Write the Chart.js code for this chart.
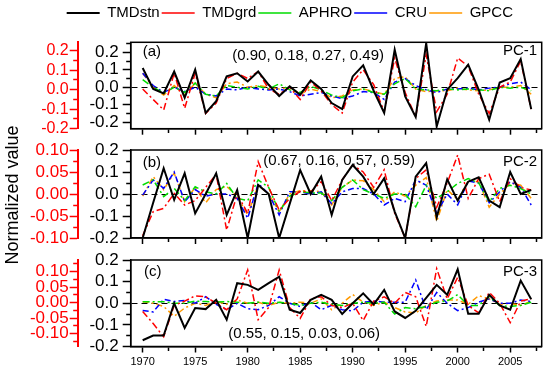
<!DOCTYPE html>
<html>
<head>
<meta charset="utf-8">
<script src="https://cdn.jsdelivr.net/npm/chart.js@4.4.1/dist/chart.umd.min.js"></script>
<style>
  body { margin: 0; background: #fff; }
  #wrap { position: relative; width: 550px; height: 376px; overflow: hidden; }
  #wrap canvas { position: absolute; left: 0; top: 0; }
  #ylab {
    position: absolute; left: -88px; top: 185px; width: 200px; height: 20px;
    line-height: 20px; text-align: center; transform: rotate(-90deg);
    font: 18px 'Liberation Sans', Arial, sans-serif; color: #000; white-space: nowrap;
  }
</style>
</head>
<body>
<div id="wrap">
  <canvas id="pa" width="550" height="376"></canvas>
  <canvas id="pb" width="550" height="376"></canvas>
  <canvas id="pc" width="550" height="376"></canvas>
  <div id="ylab">Normalized value</div>
</div>
<script>
// years and series
const years = [1970, 1971, 1972, 1973, 1974, 1975, 1976, 1977, 1978, 1979,
  1980, 1981, 1982, 1983, 1984, 1985, 1986, 1987, 1988, 1989,
  1990, 1991, 1992, 1993, 1994, 1995, 1996, 1997, 1998, 1999,
  2000, 2001, 2002, 2003, 2004, 2005, 2006, 2007];
const seriesNames = ['TMDstn', 'TMDgrd', 'APHRO', 'CRU', 'GPCC'];

// PC-1
const stnA = [0.11, -0.01, -0.035, 0.09, -0.06, 0.10, -0.147, -0.08, 0.062, 0.08,
  0.033, 0.09, 0.014, -0.05, 0.005, -0.043, 0.039, -0.01, -0.09, -0.125,
  0.062, 0.125, -0.02, -0.147, 0.214, -0.052, -0.17, 0.252, -0.224, -0.014,
  0.052, 0.129, -0.014, -0.186, 0.027, 0.052, 0.161, -0.125];
const grdA = [-0.01, -0.07, -0.13, 0.08, -0.12, 0.08, -0.15, -0.09, 0.05, 0.08,
  0.05, 0.09, -0.01, -0.04, 0.0, -0.07, 0.03, -0.02, -0.10, -0.147,
  0.03, 0.10, 0.015, -0.14, 0.167, -0.03, -0.17, 0.186, -0.14, -0.04,
  0.167, 0.12, -0.04, -0.15, 0.0, 0.03, 0.15, -0.125];
const aphA = [0.043, 0.0, -0.033, 0.0, -0.03, 0.024, -0.04, -0.05, 0.01, 0.0,
  -0.01, 0.005, -0.01, 0.02, -0.015, -0.03, 0.005, -0.015, -0.045, -0.06,
  -0.02, -0.01, -0.03, -0.04, 0.02, 0.05, -0.01, -0.015, -0.02, -0.01,
  -0.015, -0.01, -0.015, -0.02, 0.0, -0.005, 0.0, -0.02];
const cruA = [0.08, 0.01, -0.03, 0.0, -0.025, 0.0, -0.04, -0.05, -0.01, -0.015,
  0.0, -0.01, -0.015, -0.01, -0.025, -0.05, -0.04, -0.03, -0.05, -0.065,
  -0.05, -0.025, -0.03, -0.07, 0.03, 0.05, 0.01, -0.015, -0.03, -0.01,
  -0.01, -0.005, -0.015, -0.005, 0.0, 0.02, 0.03, -0.015];
const gpcA = [0.08, 0.0, -0.045, 0.01, -0.045, 0.024, -0.04, -0.06, 0.02, 0.03,
  0.0, 0.01, 0.0, -0.01, 0.0, -0.04, -0.01, -0.025, -0.06, -0.05,
  -0.015, -0.01, -0.025, -0.04, 0.05, 0.06, -0.01, -0.025, -0.02, -0.02,
  -0.005, -0.015, -0.02, -0.015, 0.0, 0.0, 0.01, -0.04];

// PC-2
const stnB = [-0.2, -0.04, 0.117, -0.027, 0.094, -0.088, 0.0, 0.094, -0.095, 0.018,
  -0.2, 0.041, 0.0, -0.2, -0.045, 0.109, 0.0, 0.079, -0.095, 0.064,
  0.132, 0.079, 0.0, 0.071, -0.08, -0.2, 0.079, 0.14, -0.106, 0.067,
  -0.03, 0.056, 0.076, -0.03, -0.06, 0.10, 0.0, 0.018];
const grdB = [-0.19, -0.08, -0.065, 0.003, -0.05, -0.03, 0.03, 0.089, -0.164, 0.0,
  -0.088, 0.147, 0.03, -0.073, -0.02, 0.012, 0.01, 0.056, -0.03, 0.064,
  0.132, 0.10, 0.03, 0.11, -0.088, -0.2, 0.07, 0.11, -0.06, 0.05,
  0.177, -0.02, 0.07, 0.09, -0.035, 0.07, 0.03, 0.018];
const aphB = [0.041, 0.064, -0.012, 0.026, -0.03, 0.033, 0.01, 0.0, 0.048, -0.02,
  -0.03, 0.064, 0.03, -0.08, -0.01, 0.01, 0.005, 0.005, -0.03, 0.03,
  0.064, 0.02, 0.0, -0.02, 0.0, 0.0, -0.058, 0.04, -0.02, 0.01,
  0.048, 0.07, 0.05, -0.035, 0.025, 0.04, 0.025, 0.0];
const cruB = [-0.005, 0.064, 0.026, 0.10, -0.035, 0.02, -0.01, 0.0, 0.0, -0.02,
  -0.11, 0.048, 0.0, -0.095, 0.01, 0.01, 0.0, 0.01, -0.044, 0.01,
  0.025, 0.025, 0.0, -0.05, -0.02, -0.035, 0.064, 0.04, -0.088, 0.0,
  -0.05, 0.06, 0.05, -0.04, 0.01, 0.056, 0.03, -0.05];
const gpcB = [-0.01, 0.079, 0.02, 0.095, -0.035, 0.03, -0.04, 0.02, 0.035, -0.01,
  -0.095, 0.04, 0.0, -0.08, 0.0, 0.015, 0.015, 0.01, -0.05, 0.03,
  0.064, 0.06, 0.02, -0.035, 0.01, -0.01, 0.04, 0.075, -0.125, 0.02,
  -0.025, 0.06, 0.055, -0.06, 0.0, 0.05, 0.04, -0.02];

// PC-3
const stnC = [-0.171, -0.149, -0.149, 0.0, -0.114, -0.022, -0.027, 0.016, -0.076, 0.093,
  0.085, 0.062, 0.093, 0.123, -0.03, -0.045, 0.016, 0.039, 0.016, -0.05,
  0.0, 0.046, -0.005, 0.062, -0.038, -0.068, -0.035, 0.025, 0.085, 0.039,
  0.157, -0.048, -0.048, 0.039, -0.01, -0.03, 0.105, 0.019];
const grdC = [-0.038, -0.094, -0.155, -0.01, 0.01, 0.034, 0.03, 0.0, -0.03, 0.02,
  0.154, -0.076, -0.02, 0.154, -0.02, -0.07, 0.02, 0.03, -0.01, -0.02,
  0.0, -0.08, 0.01, 0.03, 0.0, 0.05, 0.03, -0.107, 0.16, 0.02,
  0.12, -0.01, -0.045, 0.05, 0.0, -0.09, 0.01, 0.02];
const aphC = [0.007, 0.007, 0.007, 0.0, 0.0, 0.01, 0.008, 0.005, 0.008, 0.005,
  0.0, 0.005, 0.0, 0.005, 0.0, -0.01, 0.0, 0.005, -0.005, -0.01,
  0.0, 0.005, 0.0, 0.005, -0.05, -0.02, -0.025, -0.015, 0.005, 0.01,
  0.04, -0.01, -0.01, 0.03, -0.01, -0.015, -0.01, 0.005];
const cruC = [-0.034, -0.04, 0.018, 0.008, 0.013, 0.0, 0.03, -0.005, -0.03, 0.0,
  -0.025, -0.03, -0.01, 0.03, 0.0, -0.015, 0.005, -0.03, -0.01, -0.03,
  -0.035, 0.005, 0.01, 0.005, 0.005, 0.005, 0.108, -0.03, 0.05, 0.0,
  -0.034, -0.02, 0.005, 0.02, 0.0, 0.0, 0.015, 0.008];
const gpcC = [0.007, 0.0, -0.015, -0.06, -0.022, 0.0, -0.01, 0.01, -0.005, 0.015,
  0.0, 0.005, -0.01, 0.005, 0.0, 0.005, 0.0, 0.02, -0.03, 0.0,
  0.04, 0.005, -0.01, 0.005, -0.02, -0.04, -0.045, -0.01, 0.01, 0.015,
  0.015, -0.005, 0.035, 0.02, -0.005, 0.0, -0.01, 0.01];

// tick values
const yearTicks = [1970, 1972.5, 1975, 1977.5, 1980, 1982.5, 1985, 1987.5, 1990, 1992.5,
  1995, 1997.5, 2000, 2002.5, 2005, 2007.5];
const blackTicksA = [-0.2, -0.15, -0.1, -0.05, 0, 0.05, 0.1, 0.15, 0.2, 0.25];
const blackTicks = [-0.2, -0.15, -0.1, -0.05, 0, 0.05, 0.1, 0.15, 0.2];
const redTicksA = [-0.2, -0.15, -0.1, -0.05, 0, 0.05, 0.1, 0.15, 0.2];
const redTicksB = [-0.1, -0.075, -0.05, -0.025, 0, 0.025, 0.05, 0.075, 0.1];
const redTicksC = [-0.125, -0.1, -0.075, -0.05, -0.025, 0, 0.025, 0.05, 0.075, 0.1, 0.125];

// panel texts
const panelTags = ['(a)', '(b)', '(c)'];
const panelNames = ['PC-1', 'PC-2', 'PC-3'];
const panelStats = ['(0.90, 0.18, 0.27, 0.49)', '(0.67, 0.16, 0.57, 0.59)', '(0.55, 0.15, 0.03, 0.06)'];

// styles
const lineColors = ['#000000', '#ff0000', '#00dd00', '#0000ff', '#ff9900'];
const lineWidths = [2, 1.5, 1.5, 1.5, 1.5];
const lineDashes = [[], [7, 3, 2, 3], [7, 3, 2, 3], [6, 3, 2, 3], [6, 3, 2, 3]];

Chart.defaults.font.family = "'Liberation Sans', Arial, sans-serif";
Chart.defaults.color = '#000';

const RED = '#ff0000';
const isMult = (v, s) => Math.abs(v / s - Math.round(v / s)) < 1e-6;

const frame = {
  id: 'frame',
  afterDatasetsDraw(chart) {
    const { ctx, chartArea: a } = chart;
    ctx.save();
    ctx.strokeStyle = '#000';
    ctx.lineWidth = 1.5;
    ctx.strokeRect(a.left, a.top, a.right - a.left, a.bottom - a.top);
    ctx.restore();
  }
};

const panelText = {
  id: 'panelText',
  afterDraw(chart, args, o) {
    const { ctx, chartArea: a } = chart;
    ctx.save();
    ctx.fillStyle = '#000';
    ctx.font = "15px 'Liberation Sans', Arial, sans-serif";
    ctx.textBaseline = 'middle';
    ctx.textAlign = 'left';
    ctx.fillText(o.tag, a.left + o.tagDx, a.top + o.tagDy);
    ctx.fillText(o.stats, a.left + o.statsDx, a.top + o.statsDy);
    ctx.textAlign = 'right';
    ctx.fillText(o.name, a.right - 4.5, a.top + o.nameDy);
    ctx.restore();
  }
};

// fixes the legend box height so the first plot area starts where it should
const legendHeight = {
  id: 'legendHeight',
  beforeInit(chart) {
    if (!chart.legend) return;
    const fit = chart.legend.fit;
    chart.legend.fit = function () {
      fit.bind(chart.legend)();
      this.height = 38.8;
    };
  }
};

function makePanel(p) {
  const datasets = seriesNames.map((name, i) => ({
    label: name,
    data: years.map((yr, k) => ({ x: yr, y: p.values[i][k] })),
    xAxisID: 'x',
    yAxisID: 'y',
    borderColor: lineColors[i],
    backgroundColor: lineColors[i],
    borderWidth: lineWidths[i],
    borderDash: lineDashes[i],
    pointRadius: 0,
    tension: 0,
    fill: false
  }));

  const plugins = [frame, panelText];
  if (p.legend) plugins.unshift(legendHeight);

  // red axis spans from the left padding up to x = 77.7 (labels are clipped to it)
  const redWidth = 77.7 - p.padLeft;

  new Chart(document.getElementById(p.id), {
    type: 'line',
    data: { datasets },
    options: {
      responsive: false,
      animation: false,
      events: [],
      layout: { padding: { left: p.padLeft, right: 8.3, top: p.padTop, bottom: p.padBottom } },
      plugins: {
        legend: {
          display: p.legend,
          position: 'top',
          align: 'center',
          labels: {
            usePointStyle: true,
            pointStyle: 'line',
            pointStyleWidth: 33,
            padding: 2,
            color: '#000',
            font: { size: 15 }
          }
        },
        tooltip: { enabled: false },
        panelText: p.text
      },
      scales: {
        x: {
          type: 'linear',
          min: 1968.86,
          max: 2008,
          afterBuildTicks: s => { s.ticks = yearTicks.map(v => ({ value: v })); },
          afterFit: s => { s.height = p.xHeight; },
          grid: {
            drawOnChartArea: false,
            tickLength: 6,
            tickColor: '#000',
            tickWidth: 1.5,
            tickBorderDash: c => (c.tick && !isMult(c.tick.value, 5)) ? [3.5, 20] : []
          },
          border: { color: '#000', width: 1.5 },
          ticks: {
            display: p.xLabels,
            autoSkip: false,
            maxRotation: 0,
            padding: 3,
            color: '#000',
            font: { size: 11 },
            callback: v => isMult(v, 5) ? String(v) : ''
          }
        },
        y: {
          position: 'left',
          weight: 0,
          min: p.min,
          max: p.max,
          afterBuildTicks: s => { s.ticks = p.blackTicks.map(v => ({ value: v })); },
          afterFit: s => { s.width = 53; },
          grid: {
            drawOnChartArea: true,
            lineWidth: 1,
            color: c => (c.tick && Math.abs(c.tick.value) < 1e-9) ? '#000' : 'rgba(0,0,0,0)',
            tickLength: 8,
            tickColor: '#000',
            tickWidth: 1.5,
            tickBorderDash: c => (c.tick && !isMult(c.tick.value, 0.1)) ? [0, 3.5, 20] : []
          },
          border: { color: '#000', width: 1.5, dash: [6, 4] },
          ticks: {
            autoSkip: false,
            padding: 4,
            color: '#000',
            font: { size: 17 },
            callback: v => isMult(v, 0.1) ? v.toFixed(1) : ''
          }
        },
        yr: {
          position: 'left',
          weight: 1,
          min: p.redMin,
          max: p.redMax,
          afterBuildTicks: s => { s.ticks = p.redTicks.map(v => ({ value: v })); },
          afterFit: s => { s.width = redWidth; },
          grid: {
            drawOnChartArea: false,
            tickLength: 8,
            tickColor: RED,
            tickWidth: 1.5,
            tickBorderDash: c => (c.tick && !isMult(c.tick.value, p.redMajor)) ? [0, 3.5, 20] : []
          },
          border: { color: RED, width: 2 },
          ticks: {
            autoSkip: false,
            padding: 1,
            color: RED,
            font: { size: p.redFont },
            callback: v => isMult(v, p.redMajor) ? v.toFixed(p.redDigits) : ''
          }
        }
      }
    },
    plugins
  });
}

makePanel({
  id: 'pa', values: [stnA, grdA, aphA, cruA, gpcA], legend: true,
  padLeft: 38, padTop: 3.5, padBottom: 239.3, xHeight: 8, xLabels: false,
  min: -0.237, max: 0.257, blackTicks: blackTicksA,
  redMin: -0.2, redMax: 0.243, redTicks: redTicksA, redMajor: 0.1, redDigits: 1, redFont: 16,
  text: { tag: panelTags[0], name: panelNames[0], stats: panelStats[0],
    tagDx: 12, tagDy: 10, nameDy: 9, statsDx: 101.5, statsDy: 14 }
});
makePanel({
  id: 'pb', values: [stnB, grdB, aphB, cruB, gpcB], legend: false,
  padLeft: 0, padTop: 150, padBottom: 130, xHeight: 8, xLabels: false,
  min: -0.2, max: 0.2, blackTicks: blackTicks,
  redMin: -0.1, redMax: 0.1, redTicks: redTicksB, redMajor: 0.05, redDigits: 2, redFont: 17,
  text: { tag: panelTags[1], name: panelNames[1], stats: panelStats[1],
    tagDx: 12, tagDy: 13, nameDy: 11.5, statsDx: 132.6, statsDy: 11 }
});
makePanel({
  id: 'pc', values: [stnC, grdC, aphC, cruC, gpcC], legend: false,
  padLeft: 0, padTop: 260, padBottom: 7.5, xHeight: 22, xLabels: true,
  min: -0.2, max: 0.2, blackTicks: blackTicks,
  redMin: -0.1417, redMax: 0.1375, redTicks: redTicksC, redMajor: 0.05, redDigits: 2, redFont: 17,
  text: { tag: panelTags[2], name: panelNames[2], stats: panelStats[2],
    tagDx: 13.3, tagDy: 12, nameDy: 11.5, statsDx: 97.6, statsDy: 73.5 }
});
</script>
</body>
</html>
